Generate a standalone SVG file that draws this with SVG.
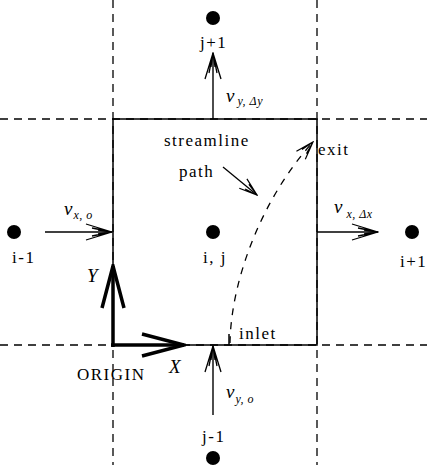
<svg xmlns="http://www.w3.org/2000/svg" width="427" height="465" viewBox="0 0 427 465">
<style>
.dash{stroke:#000;stroke-width:1.3;stroke-dasharray:8,6;fill:none}
.solid{stroke:#000;stroke-width:1.5;fill:none}
.arr{stroke:#000;stroke-width:1.4;fill:none;marker-end:url(#ah)}
.bold{stroke:#000;stroke-width:3.5;fill:none;marker-end:url(#ahb)}
text{font-family:"Liberation Serif","Times New Roman",serif;font-size:17px;letter-spacing:1.5px;fill:#000}
.v{font-style:italic;font-size:19px;letter-spacing:0}
.sub{font-size:12px;font-style:italic;letter-spacing:0.5px}
</style>
<defs>
<marker id="ah" markerWidth="28" markerHeight="18" refX="27" refY="9" orient="auto" markerUnits="userSpaceOnUse">
<path d="M1,1 L27,9 L1,17 M7,5 L27,9 L7,13 M13,7 L27,9 L13,11" fill="none" stroke="#000" stroke-width="1.3"/>
</marker>
<marker id="ahs" markerWidth="20" markerHeight="14" refX="19" refY="7" orient="auto" markerUnits="userSpaceOnUse">
<path d="M1,1 L19,7 L1,13 M6,4 L19,7 L6,10" fill="none" stroke="#000" stroke-width="1.2"/>
</marker>
<marker id="ahb" markerWidth="46" markerHeight="28" refX="44" refY="14" orient="auto" markerUnits="userSpaceOnUse">
<path d="M2,3 L44,14 L2,25" fill="none" stroke="#000" stroke-width="3.5"/>
</marker>
</defs>
<g id="grid">
<line class="dash" x1="113" y1="0" x2="113" y2="465"/>
<line class="dash" x1="317" y1="0" x2="317" y2="465"/>
<line class="dash" x1="0" y1="119" x2="427" y2="119"/>
<line class="dash" x1="0" y1="345" x2="427" y2="345"/>
</g>
<g id="cell">
<rect class="solid" x="113" y="119" width="204" height="226"/>
</g>
<g id="node-top"><circle cx="213" cy="18" r="7"/><text x="200" y="48">j+1</text></g>
<g id="node-left"><circle cx="14" cy="232" r="7"/><text x="12" y="263">i-1</text></g>
<g id="node-center"><circle cx="213" cy="232" r="7"/><text x="203" y="263">i, j</text></g>
<g id="node-right"><circle cx="412" cy="232" r="7"/><text x="400" y="267">i+1</text></g>
<g id="node-bottom"><circle cx="213" cy="458" r="7"/><text x="202" y="442">j-1</text></g>
<g id="connectors">
<line class="arr" x1="213" y1="119" x2="213" y2="53"/>
<line class="arr" x1="45" y1="232" x2="112" y2="232"/>
<line class="arr" x1="317" y1="232" x2="378" y2="232"/>
<line class="arr" x1="213" y1="415" x2="213" y2="346"/>
<line class="bold" x1="113" y1="347" x2="113" y2="266"/>
<line class="bold" x1="111" y1="345" x2="184" y2="345"/>
<path d="M230,343 C231,280 262,198 313,142" fill="none" stroke="#000" stroke-width="1.3" stroke-dasharray="7,7" marker-end="url(#ahs)"/>
<line class="solid" x1="229" y1="334" x2="229" y2="345" stroke-width="1.2"/>
<line x1="223" y1="167" x2="257" y2="195" stroke="#000" stroke-width="1.3" marker-end="url(#ahs)"/>
</g>
<g id="labels">
<text x="226" y="102"><tspan class="v">v</tspan><tspan class="sub" dx="3" dy="3">y, Δy</tspan></text>
<text x="64" y="215"><tspan class="v">v</tspan><tspan class="sub" dx="1" dy="4">x, o</tspan></text>
<text x="334" y="213"><tspan class="v">v</tspan><tspan class="sub" dx="4" dy="5">x, Δx</tspan></text>
<text x="226" y="398"><tspan class="v">v</tspan><tspan class="sub" dx="1" dy="5">y, o</tspan></text>
<text x="87" y="282" class="v">Y</text>
<text x="169" y="373" class="v">X</text>
<text x="77" y="380" letter-spacing="2">ORIGIN</text>
<text x="239" y="339">inlet</text>
<text x="318" y="155">exit</text>
<text x="164" y="146">streamline</text>
<text x="179" y="177">path</text>
</g>
</svg>
